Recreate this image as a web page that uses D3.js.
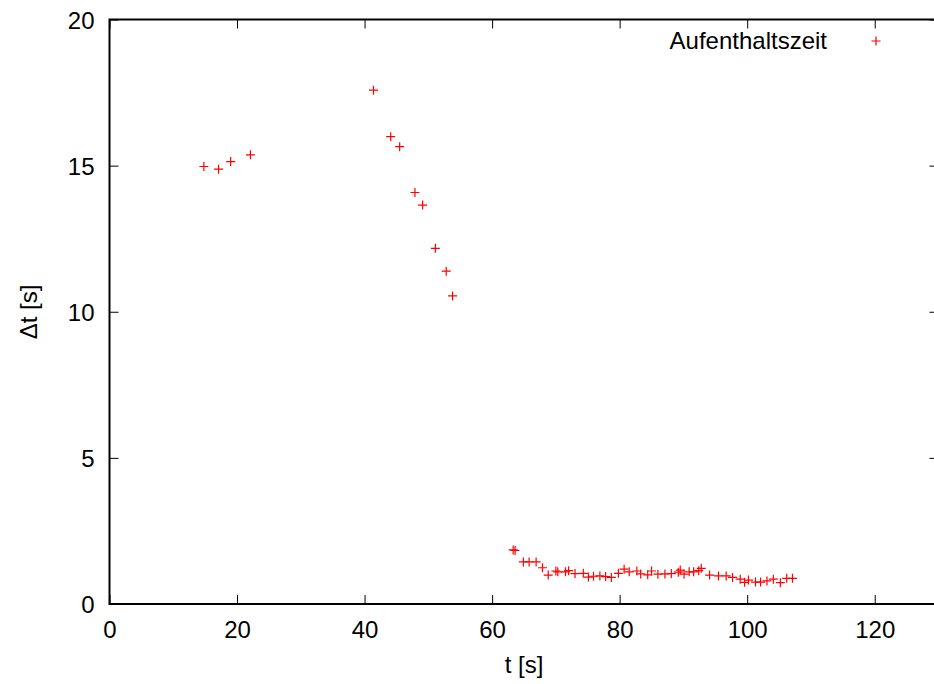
<!DOCTYPE html>
<html><head><meta charset="utf-8">
<script src="https://cdn.jsdelivr.net/npm/d3@7"></script>
<style>body{margin:0;background:#fff}svg{display:block}text{font-family:"Liberation Sans",Arial,sans-serif;fill:#000}</style>
</head><body>
<script>
const seriesName = "Aufenthaltszeit";
const xTitle = "t [s]";
const yTitle = "\u0394t [s]";
const xTicks = [0, 20, 40, 60, 80, 100, 120];
const yTicks = [0, 5, 10, 15, 20];
const tValues = [14.8, 17.1, 19.0, 22.1,
  41.4, 44.1, 45.5, 47.9, 49.1, 51.1, 52.8, 53.8,
  63.3, 63.6, 64.9, 65.8, 66.9, 67.9, 68.8, 70.0, 70.3, 71.5, 72.0, 73.0, 74.3, 75.1, 75.9, 76.9, 77.8, 78.7,
  79.8, 80.7, 81.5, 82.7, 83.3, 84.4, 85.0, 86.0, 87.1, 88.1, 89.2, 89.5, 90.1, 90.9, 91.6, 92.4, 92.8,
  94.1, 95.5, 96.7, 97.7, 98.9, 99.6, 100.2, 101.3, 102.1, 103.1, 104.1, 105.2, 106.2, 107.1];
const dtValues = [14.97, 14.88, 15.14, 15.37,
  17.58, 15.99, 15.65, 14.08, 13.65, 12.17, 11.39, 10.54,
  1.85, 1.83, 1.44, 1.44, 1.44, 1.24, 0.99, 1.13, 1.10, 1.10, 1.14, 1.04, 1.05, 0.92, 0.95, 0.96, 0.94, 0.91,
  1.05, 1.19, 1.10, 1.13, 1.03, 1.00, 1.13, 1.02, 1.03, 1.04, 1.09, 1.16, 1.02, 1.10, 1.10, 1.14, 1.22,
  0.99, 0.96, 0.96, 0.91, 0.85, 0.74, 0.82, 0.75, 0.75, 0.79, 0.85, 0.73, 0.88, 0.88];

(function () {
const W = 934, H = 684;
const L = 109.5, R = 938.5, T = 19.5, B = 604;
const svg = d3.select("body").append("svg").attr("width", W).attr("height", H);
const x = d3.scaleLinear().domain([0, 130]).range([L, R]);
const y = d3.scaleLinear().domain([0, 20]).range([B, T]);
const fs = 24, tl = 9;

const g = svg.append("g");
const axB = g.append("g").attr("transform", `translate(0,${B})`)
  .call(d3.axisBottom(x).tickValues(xTicks).tickSize(-tl).tickFormat(d3.format("d")));
g.append("g").attr("transform", `translate(0,${T})`)
  .call(d3.axisTop(x).tickValues(xTicks).tickSize(-tl).tickFormat(""));
const axL = g.append("g").attr("transform", `translate(${L},0)`)
  .call(d3.axisLeft(y).tickValues(yTicks).tickSize(-tl).tickFormat(d3.format("d")));
g.append("g").attr("transform", `translate(${R},0)`)
  .call(d3.axisRight(y).tickValues(yTicks).tickSize(-tl).tickFormat(""));
g.selectAll(".domain").remove();
g.selectAll(".tick line").attr("stroke", "#000").attr("stroke-width", 1);
g.selectAll(".tick text").attr("font-size", fs).attr("font-family", "Liberation Sans, Arial, sans-serif").attr("fill", "#000");
axB.selectAll(".tick text").attr("y", 17).attr("dy", "0.71em");
axL.selectAll(".tick text").attr("x", -15).attr("dy", "0.36em");

svg.append("rect").attr("x", L).attr("y", T).attr("width", R - L).attr("height", B - T)
  .attr("fill", "none").attr("stroke", "#000").attr("stroke-width", 2);

svg.append("text").attr("x", 524).attr("y", 673).attr("text-anchor", "middle").attr("font-size", fs).text(xTitle);
svg.append("text").attr("transform", "translate(37,312) rotate(-90)").attr("text-anchor", "middle").attr("font-size", fs).text(yTitle);

const data = tValues.map((t, i) => ({t, dt: dtValues[i]}));
const s = 4.5;
const pts = svg.append("g").attr("stroke", "#ff0000").attr("stroke-width", 1.2);
pts.selectAll("path").data(data).join("path")
  .attr("d", d => {
    const px = x(d.t), py = y(d.dt);
    return `M${px - s},${py}H${px + s}M${px},${py - s}V${py + s}`;
  });

svg.append("text").attr("x", 827).attr("y", 49).attr("text-anchor", "end").attr("font-size", fs).text(seriesName);
svg.append("path").attr("stroke", "#ff0000").attr("stroke-width", 1.2)
  .attr("d", `M${876 - s},41H${876 + s}M876,${41 - s}V${41 + s}`);
})();
</script>
</body></html>
